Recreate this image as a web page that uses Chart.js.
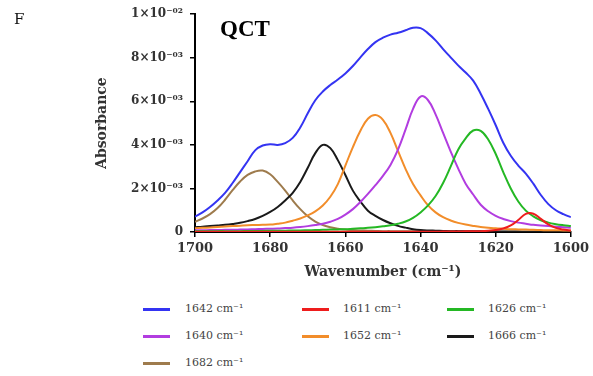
<!DOCTYPE html>
<html>
<head>
<meta charset="utf-8">
<script src="https://cdn.jsdelivr.net/npm/chart.js@4.4.1/dist/chart.umd.min.js"></script>
<style>
  html, body { margin: 0; padding: 0; background: #fff; }
  #wrap { position: relative; width: 593px; height: 376px; overflow: hidden; font-family: "DejaVu Serif", serif; }
  #chart { position: absolute; left: 0; top: 0; }
  #panel { position: absolute; left: 14px; top: 10px; font-size: 15px; color: #111; }
  #title { position: absolute; left: 220px; top: 16px; font-family: "Liberation Serif", serif; font-weight: bold; font-size: 23px; color: #000; }
  .key { position: absolute; height: 14px; }
  .key i { position: absolute; left: 0; top: 6px; width: 27px; height: 3px; }
  .key span { position: absolute; top: 0; white-space: nowrap; font-size: 11px; line-height: 14px; color: #444; }
</style>
</head>
<body>
<div id="wrap">
  <canvas id="chart" width="593" height="290"></canvas>
  <div id="panel">F</div>
  <div id="title">QCT</div>
  <div id="legend"></div>
</div>
<script>
// wavenumber grid, cm⁻¹ (high to low, as plotted)
const wavenumbers = [
  1700, 1698, 1696, 1694, 1692, 1690, 1688, 1686, 1684, 1682,
  1680, 1678, 1676, 1674, 1672, 1670, 1668, 1666, 1664, 1662,
  1660, 1658, 1656, 1654, 1652, 1650, 1648, 1646, 1644, 1642,
  1640, 1638, 1636, 1634, 1632, 1630, 1628, 1626, 1624, 1622,
  1620, 1618, 1616, 1614, 1612, 1610, 1608, 1606, 1604, 1602,
  1600
];

// absorbance in units of 10⁻³
const abs1642 = [
  0.70, 0.90, 1.15, 1.45, 1.80, 2.25, 2.75, 3.25, 3.75, 3.97,
  4.03, 4.00, 4.08, 4.32, 4.80, 5.45, 6.05, 6.45, 6.75, 7.00,
  7.28, 7.62, 8.02, 8.40, 8.72, 8.92, 9.06, 9.15, 9.26, 9.38,
  9.36, 9.12, 8.80, 8.40, 8.02, 7.65, 7.32, 6.95, 6.35, 5.65,
  4.90, 4.10, 3.50, 3.05, 2.68, 2.22, 1.70, 1.28, 1.00, 0.82,
  0.68
];
const abs1611 = [
  0.01, 0.01, 0.01, 0.01, 0.01, 0.01, 0.01, 0.01, 0.01, 0.01,
  0.01, 0.01, 0.01, 0.01, 0.01, 0.01, 0.01, 0.01, 0.01, 0.01,
  0.01, 0.01, 0.01, 0.01, 0.01, 0.01, 0.01, 0.01, 0.01, 0.01,
  0.01, 0.01, 0.01, 0.02, 0.02, 0.02, 0.03, 0.03, 0.04, 0.06,
  0.09, 0.16, 0.30, 0.55, 0.83, 0.84, 0.60, 0.35, 0.19, 0.11,
  0.07
];
const abs1626 = [
  0.03, 0.03, 0.03, 0.04, 0.04, 0.04, 0.04, 0.05, 0.05, 0.05,
  0.06, 0.06, 0.06, 0.07, 0.07, 0.08, 0.09, 0.10, 0.11, 0.12,
  0.13, 0.15, 0.17, 0.19, 0.22, 0.26, 0.31, 0.38, 0.48, 0.65,
  0.90, 1.22, 1.65, 2.25, 3.00, 3.78, 4.30, 4.66, 4.64, 4.25,
  3.58, 2.75, 2.00, 1.40, 0.98, 0.72, 0.54, 0.43, 0.36, 0.31,
  0.27
];
const abs1640 = [
  0.08, 0.08, 0.09, 0.09, 0.10, 0.10, 0.11, 0.12, 0.13, 0.14,
  0.15, 0.16, 0.18, 0.20, 0.23, 0.27, 0.32, 0.38, 0.47, 0.60,
  0.80, 1.05, 1.38, 1.75, 2.15, 2.58, 3.08, 3.78, 4.70, 5.65,
  6.22, 6.05, 5.40, 4.55, 3.70, 2.92, 2.22, 1.72, 1.25, 0.95,
  0.74, 0.60, 0.50, 0.43, 0.38, 0.33, 0.30, 0.27, 0.24, 0.22,
  0.20
];
const abs1652 = [
  0.17, 0.19, 0.21, 0.23, 0.25, 0.27, 0.29, 0.31, 0.32, 0.33,
  0.34, 0.38, 0.43, 0.52, 0.62, 0.76, 0.95, 1.22, 1.62, 2.20,
  3.05, 3.90, 4.65, 5.20, 5.37, 5.15, 4.55, 3.72, 2.90, 2.20,
  1.68, 1.22, 0.90, 0.68, 0.53, 0.42, 0.34, 0.28, 0.23, 0.20,
  0.17, 0.15, 0.13, 0.12, 0.11, 0.10, 0.09, 0.08, 0.08, 0.07,
  0.07
];
const abs1666 = [
  0.22, 0.24, 0.27, 0.30, 0.33, 0.37, 0.42, 0.50, 0.60, 0.74,
  0.92, 1.15, 1.45, 1.80, 2.30, 2.95, 3.62, 4.00, 3.85, 3.30,
  2.62, 1.90, 1.40, 0.98, 0.74, 0.55, 0.40, 0.28, 0.20, 0.13,
  0.09, 0.07, 0.06, 0.05, 0.04, 0.04, 0.03, 0.03, 0.03, 0.02,
  0.02, 0.02, 0.02, 0.02, 0.01, 0.01, 0.01, 0.01, 0.01, 0.01,
  0.01
];
const abs1682 = [
  0.47, 0.62, 0.82, 1.10, 1.48, 1.92, 2.32, 2.62, 2.78, 2.82,
  2.65, 2.30, 1.90, 1.45, 1.05, 0.72, 0.48, 0.32, 0.22, 0.15,
  0.11, 0.09, 0.07, 0.06, 0.05, 0.04, 0.04, 0.03, 0.03, 0.03,
  0.02, 0.02, 0.02, 0.02, 0.02, 0.02, 0.02, 0.02, 0.01, 0.01,
  0.01, 0.01, 0.01, 0.01, 0.01, 0.01, 0.01, 0.01, 0.01, 0.01,
  0.01
];

const seriesNames = ['1642 cm⁻¹', '1611 cm⁻¹', '1626 cm⁻¹', '1640 cm⁻¹', '1652 cm⁻¹', '1666 cm⁻¹', '1682 cm⁻¹'];
const seriesValues = [abs1642, abs1611, abs1626, abs1640, abs1652, abs1666, abs1682];
const seriesColors = ['#3434f2', '#ee1d1d', '#24b824', '#b23de0', '#f28d2a', '#1a1a1a', '#9e7b4d'];

const xTicks = [1700, 1680, 1660, 1640, 1620, 1600];
const yTickLabels = ['0', '2×10⁻⁰³', '4×10⁻⁰³', '6×10⁻⁰³', '8×10⁻⁰³', '1×10⁻⁰²'];

const serif = 'DejaVu Serif';

const datasets = seriesValues.map((vals, i) => ({
  label: seriesNames[i],
  data: wavenumbers.map((w, j) => ({ x: w, y: vals[j] })),
  borderColor: seriesColors[i],
  backgroundColor: seriesColors[i],
  borderWidth: 2,
  pointRadius: 0,
  tension: 0.4,
  fill: false
}));

const chart = new Chart(document.getElementById('chart'), {
  type: 'line',
  data: { datasets },
  options: {
    responsive: false,
    animation: false,
    layout: { padding: { top: 12, right: 19, left: 0, bottom: 0 } },
    plugins: {
      legend: { display: false },
      tooltip: { enabled: false }
    },
    scales: {
      x: {
        type: 'linear',
        reverse: true,
        min: xTicks[xTicks.length - 1],
        max: xTicks[0],
        afterBuildTicks: (scale) => { scale.ticks = xTicks.map((v) => ({ value: v })); },
        ticks: {
          maxRotation: 0,
          padding: 4,
          color: '#333',
          font: { family: serif, weight: 'bold', size: 13 },
          callback: (v) => String(v)
        },
        grid: { drawOnChartArea: false, color: '#000', lineWidth: 1.5, tickLength: 5 },
        border: { color: '#000', width: 2 },
        title: {
          display: true,
          text: 'Wavenumber (cm⁻¹)',
          color: '#333',
          font: { family: serif, weight: 'bold', size: 14 },
          padding: { top: 0, bottom: 9 }
        },
        afterFit: (scale) => { scale.height = 58; }
      },
      y: {
        min: 0,
        max: 10,
        ticks: {
          stepSize: 2,
          padding: 7,
          color: '#333',
          font: { family: serif, weight: 'bold', size: 12 },
          callback: (v) => yTickLabels[Math.round(v / 2)]
        },
        grid: { drawOnChartArea: false, color: '#000', lineWidth: 1.5, tickLength: 5 },
        border: { color: '#000', width: 2 },
        title: {
          display: true,
          text: 'Absorbance',
          color: '#333',
          font: { family: serif, weight: 'bold', size: 14 },
          padding: { top: 94, bottom: 0 }
        },
        afterFit: (scale) => { scale.width = 195; }
      }
    }
  }
});

// three-column key under the plot, built from the chart's datasets
const lineX = [143, 302, 447];
const textX = [185, 343, 488];
const legend = document.getElementById('legend');
chart.data.datasets.forEach((ds, i) => {
  const col = i % 3;
  const row = Math.floor(i / 3);
  const item = document.createElement('div');
  item.className = 'key';
  item.style.left = lineX[col] + 'px';
  item.style.top = (302 + row * 27) + 'px';
  const swatch = document.createElement('i');
  swatch.style.background = ds.borderColor;
  const text = document.createElement('span');
  text.style.left = (textX[col] - lineX[col]) + 'px';
  text.textContent = ds.label;
  item.appendChild(swatch);
  item.appendChild(text);
  legend.appendChild(item);
});
</script>
</body>
</html>
